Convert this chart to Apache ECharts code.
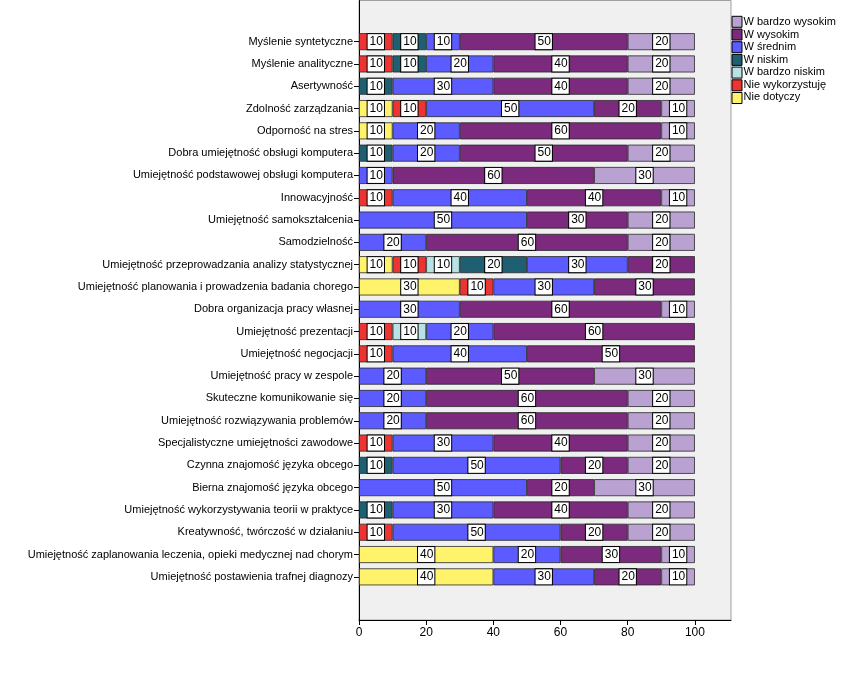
<!DOCTYPE html>
<html>
<head>
<meta charset="utf-8">
<script src="https://cdn.jsdelivr.net/npm/echarts@6/dist/echarts.min.js"></script>
<style>
html,body{margin:0;padding:0;background:#fff;}
#chart{width:842px;height:674px;}
</style>
</head>
<body>
<div id="chart"></div>
<script>
const categories = [
  "Myślenie syntetyczne",
  "Myślenie analityczne",
  "Asertywność",
  "Zdolność zarządzania",
  "Odporność na stres",
  "Dobra umiejętność obsługi komputera",
  "Umiejętność podstawowej obsługi komputera",
  "Innowacyjność",
  "Umiejętność samokształcenia",
  "Samodzielność",
  "Umiejętność przeprowadzania analizy statystycznej",
  "Umiejętność planowania i prowadzenia badania chorego",
  "Dobra organizacja pracy własnej",
  "Umiejętność prezentacji",
  "Umiejętność negocjacji",
  "Umiejętność pracy w zespole",
  "Skuteczne komunikowanie się",
  "Umiejętność rozwiązywania problemów",
  "Specjalistyczne umiejętności zawodowe",
  "Czynna znajomość języka obcego",
  "Bierna znajomość języka obcego",
  "Umiejętność wykorzystywania teorii w praktyce",
  "Kreatywność, twórczość w działaniu",
  "Umiejętność zaplanowania leczenia, opieki medycznej nad chorym",
  "Umiejętność postawienia trafnej diagnozy"
];
const nieDotyczy      = [0,0,0,10,10,0,0,0,0,0,10,30,0,0,0,0,0,0,0,0,0,0,0,40,40];
const nieWykorzystuje = [10,10,0,10,0,0,0,10,0,0,10,10,0,10,10,0,0,0,10,0,0,0,10,0,0];
const wBardzoNiskim   = [0,0,0,0,0,0,0,0,0,0,10,0,0,10,0,0,0,0,0,0,0,0,0,0,0];
const wNiskim         = [10,10,10,0,0,10,0,0,0,0,20,0,0,0,0,0,0,0,0,10,0,10,0,0,0];
const wSrednim        = [10,20,30,50,20,20,10,40,50,20,30,30,30,20,40,20,20,20,30,50,50,30,50,20,30];
const wWysokim        = [50,40,40,20,60,50,60,40,30,60,20,30,60,60,50,50,60,60,40,20,20,40,20,30,20];
const wBardzoWysokim  = [20,20,20,10,10,20,30,10,20,20,0,0,10,0,0,30,20,20,20,20,30,20,20,10,10];
const xTicks = [0,20,40,60,80,100];

const seriesDefs = [
  {name:"Nie dotyczy", data:nieDotyczy, color:"#FFF36B"},
  {name:"Nie wykorzystuję", data:nieWykorzystuje, color:"#EE3333"},
  {name:"W bardzo niskim", data:wBardzoNiskim, color:"#B8E3E6"},
  {name:"W niskim", data:wNiskim, color:"#1E5F71"},
  {name:"W średnim", data:wSrednim, color:"#5B5BFF"},
  {name:"W wysokim", data:wWysokim, color:"#7B2A7E"},
  {name:"W bardzo wysokim", data:wBardzoWysokim, color:"#B9A1D2"}
];
const legendNames = seriesDefs.map(s=>s.name).reverse();

const font = "Arial, 'Liberation Sans', sans-serif";
const chart = echarts.init(document.getElementById('chart'));
chart.setOption({
  animation:false,
  backgroundColor:'#fff',
  legend:[
    {orient:'vertical', left:731.5, top:15.8, padding:0,
     itemWidth:10, itemHeight:11, itemGap:0.7, icon:'rect',
     data:legendNames,
     textStyle:{fontFamily:font, fontSize:11, lineHeight:11, color:'rgba(0,0,0,0)'},
     itemStyle:{borderColor:'#000', borderWidth:1}},
    {orient:'vertical', left:738.5, top:16.5, padding:0,
     itemWidth:0, itemHeight:11, itemGap:1.5, icon:'none',
     data:legendNames,
     textStyle:{fontFamily:font, fontSize:11, lineHeight:11, color:'#000'}}
  ],
  grid:[
    {left:359, right:111, top:30.5, bottom:86, containLabel:false},
    {left:359, right:111, top:0.5, bottom:54, show:true, backgroundColor:'#F0F0F0', borderColor:'#A0A0A0', borderWidth:1, z:0}
  ],
  xAxis:[
    {type:'value', gridIndex:0, min:0, max:110.75, offset:32,
     axisLine:{show:true, lineStyle:{color:'#000', width:1}},
     axisTick:{show:true, length:5, customValues:xTicks, lineStyle:{color:'#000'}},
     splitLine:{show:false},
     axisLabel:{color:'#000', fontFamily:font, fontSize:12, margin:7, customValues:xTicks}},
    {type:'value', gridIndex:1, min:0, max:100, show:false}
  ],
  yAxis:[
    {type:'category', gridIndex:0, data:categories, inverse:true,
     axisLine:{show:false},
     axisTick:{show:true, alignWithLabel:true, length:5, lineStyle:{color:'#000'}},
     axisLabel:{color:'#000', fontFamily:font, fontSize:11, margin:6}},
    {type:'value', gridIndex:1, min:0, max:1, show:true,
     axisLine:{show:true, lineStyle:{color:'#000', width:1}},
     axisTick:{show:false}, axisLabel:{show:false}, splitLine:{show:false}}
  ],
  series: seriesDefs.map(s=>({
    name:s.name, type:'bar', stack:'total', xAxisIndex:0, yAxisIndex:0,
    barWidth:17,
    data: s.data.map(v=> v>0 ? v : '-'),
    itemStyle:{color:s.color, borderColor:'#2a2a2a', borderWidth:0.8},
    label:{show:true, position:'inside', color:'#000', fontFamily:font, fontSize:12,
      backgroundColor:'#fff', borderColor:'#000', borderWidth:1, padding:[2,1,1,2],
      formatter:p=>String(p.value)}
  }))
});
</script>
</body>
</html>
